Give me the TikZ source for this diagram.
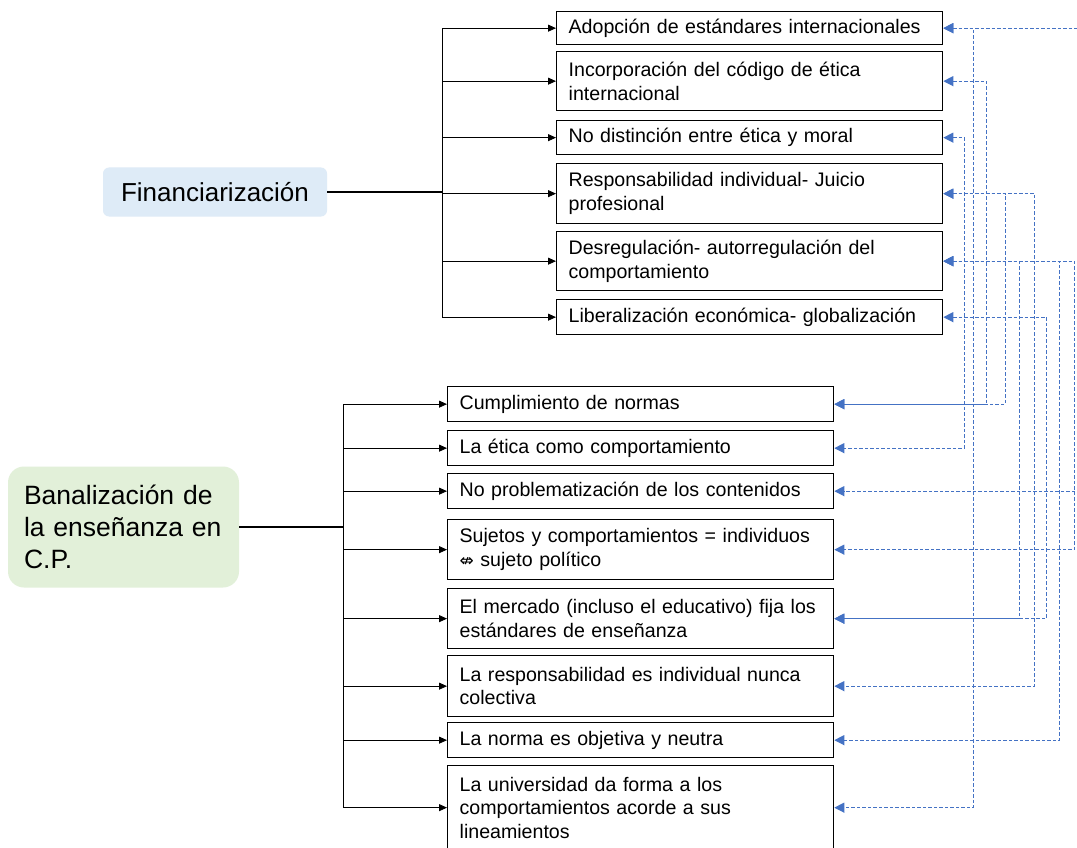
\documentclass[tikz,border=0pt]{standalone}
\usepackage{fontspec}
\setmainfont{Liberation Sans}
\newfontfamily\symfont{DejaVu Sans}
\usetikzlibrary{arrows.meta,calc}
\definecolor{linkblue}{HTML}{4472C4}
\definecolor{finfill}{HTML}{DEEBF7}
\definecolor{banfill}{HTML}{E2F0D9}
\begin{document}
\begin{tikzpicture}[x=1pt,y=1pt,
  item/.style={draw=black, line width=1.3pt, anchor=north west,
    text width=362pt, inner xsep=12pt, inner ysep=0pt, align=left,
    font=\fontsize{19.6}{23.5}\selectfont},
  trunk/.style={line width=2pt, black},
  branch/.style={line width=0.8pt, black},
  feed/.style={line width=0.8pt, black, -{Triangle[length=8pt,width=7pt]}},
  link/.style={linkblue, line width=1.1pt, dash pattern=on 3.5pt off 2pt,
    {Triangle[length=10pt,width=10pt]}-{Triangle[length=10pt,width=10pt]}},
]
\clip (0,0) rectangle (1077,-848);
\fill[white] (0,0) rectangle (1077,-848);

% main topics
\node[fill=finfill, rounded corners=6pt, minimum width=224pt, minimum height=49pt,
      font=\fontsize{26}{31}\selectfont] (fin) at (215,-192) {Financiarización};
\node[fill=banfill, rounded corners=16pt, minimum width=231pt, minimum height=121pt,
      text width=199pt, inner xsep=16pt, align=left,
      font=\fontsize{26.5}{32}\selectfont] (ban) at (123.5,-527)
      {Banalización de\\la enseñanza en\\C.P.};

% upper column
\node[item, minimum height=33pt] (t1) at (556,-11) {Adopción de estándares internacionales};
\node[item, minimum height=59pt] (t2) at (556,-51) {Incorporación del código de ética\\internacional};
\node[item, minimum height=34pt] (t3) at (556,-120) {No distinción entre ética y moral};
\node[item, minimum height=60pt] (t4) at (556,-163) {Responsabilidad individual- Juicio\\profesional};
\node[item, minimum height=59pt] (t5) at (556,-231) {Desregulación- autorregulación del\\comportamiento};
\node[item, minimum height=35pt] (t6) at (556,-299) {Liberalización económica- globalización};

% lower column
\node[item, minimum height=35pt] (b1) at (447,-386) {Cumplimiento de normas};
\node[item, minimum height=35pt] (b2) at (447,-430) {La ética como comportamiento};
\node[item, minimum height=35pt] (b3) at (447,-473) {No problematización de los contenidos};
\node[item, minimum height=60pt] (b4) at (447,-519) {Sujetos y comportamientos = individuos\\{\symfont\fontsize{17}{23}\selectfont ⇎} sujeto político};
\node[item, minimum height=60pt] (b5) at (447,-588) {El mercado (incluso el educativo) fija los\\estándares de enseñanza};
\node[item, minimum height=61pt] (b6) at (447,-655) {La responsabilidad es individual nunca\\colectiva};
\node[item, minimum height=35pt] (b7) at (447,-722) {La norma es objetiva y neutra};
\node[item, minimum height=84pt] (b8) at (447,-765) {La universidad da forma a los\\comportamientos acorde a sus\\lineamientos};

% tree from Financiarización
\coordinate (fj) at (442,-192);
\draw[trunk] (fin.east) -- (fin.east -| fj);
\draw[branch] (fj |- t1.west) -- (fj |- t6.west);
\foreach \n in {t1,t2,t3,t4,t5,t6}
  \draw[feed] (fj |- \n.west) -- (\n.west);

% tree from Banalización
\coordinate (bj) at (343,-527);
\draw[trunk] (ban.east) -- (ban.east -| bj);
\draw[branch] (bj |- b1.west) -- (bj |- b8.west);
\foreach \n in {b1,b2,b3,b4,b5,b6,b7,b8}
  \draw[feed] (bj |- \n.west) -- (\n.west);

% cross links between the two columns
\draw[link] (t1.east) -- ++(30,0) |- (b8.east);
\draw[link] (t1.east) -- ++(150,0) |- (b3.east);
\draw[link] (t2.east) -- ++(43,0) |- (b1.east);
\draw[link] (t3.east) -- ++(21,0) |- (b2.east);
\draw[link] (t4.east) -- ++(62,0) |- (b1.east);
\draw[link] (t4.east) -- ++(91,0) |- (b6.east);
\draw[link] (t5.east) -- ++(76,0) |- (b5.east);
\draw[link] (t5.east) -- ++(116,0) |- (b7.east);
\draw[link] (t5.east) -- ++(131,0) |- (b4.east);
\draw[link] (t6.east) -- ++(103,0) |- (b5.east);
\end{tikzpicture}
\end{document}
